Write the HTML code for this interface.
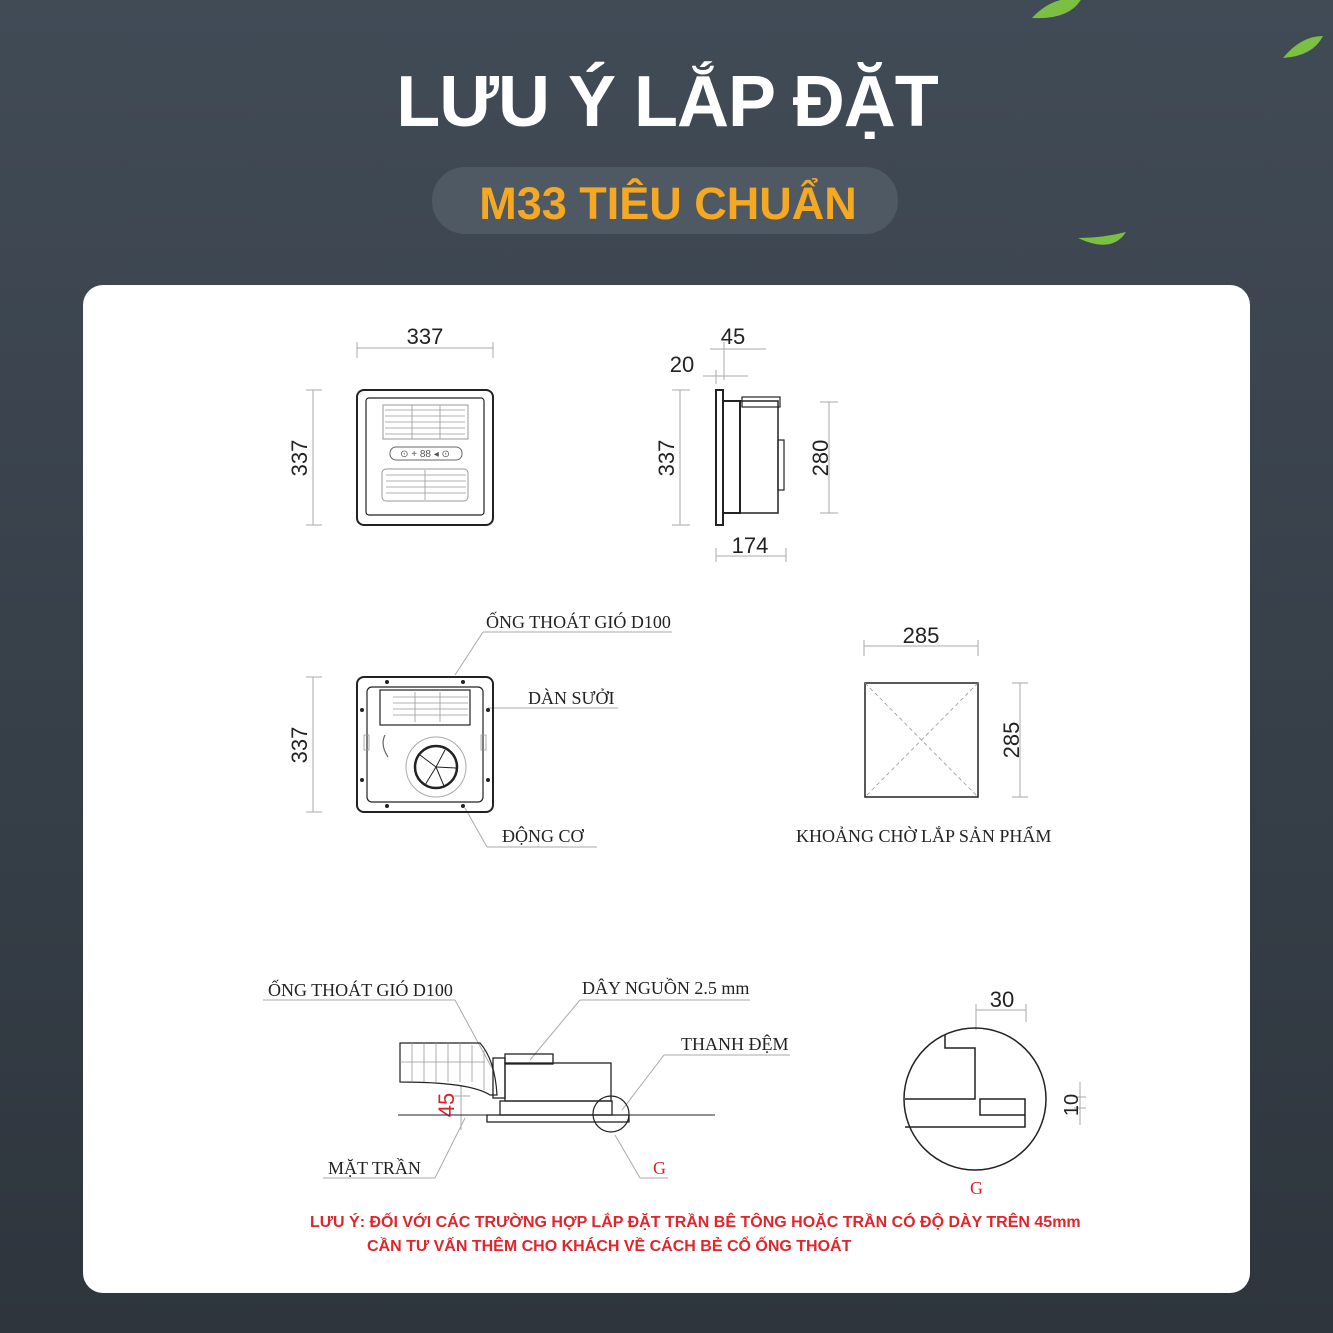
<!DOCTYPE html>
<html><head><meta charset="utf-8"><style>
html,body{margin:0;padding:0;width:1333px;height:1333px;overflow:hidden;background:#38414b}
svg{display:block}
</style></head><body>
<svg width="1333" height="1333" viewBox="0 0 1333 1333" xmlns="http://www.w3.org/2000/svg" font-family="Liberation Sans, sans-serif">
<defs>
<linearGradient id="bg" x1="0" y1="0" x2="0" y2="1"><stop offset="0" stop-color="#414b56"/><stop offset="1" stop-color="#2e353d"/></linearGradient>
</defs>
<rect width="1333" height="1333" fill="url(#bg)"/>
<path d="M1032,18 q20,-22 50,-20 q-12,22 -50,20z" fill="#7bc043"/>
<path d="M1283,58 q18,-22 40,-22 q-10,20 -40,22z" fill="#7bc043"/>
<path d="M1078,238 q25,0 48,-6 q-14,22 -48,6z" fill="#7bc043"/>
<text x="667" y="126" text-anchor="middle" fill="#fff" font-size="72" font-weight="bold" letter-spacing="-1">LƯU Ý LẮP ĐẶT</text>
<rect x="432" y="167" width="466" height="67" rx="33" fill="#4e5964"/>
<text x="668" y="219" text-anchor="middle" fill="#f5a922" font-size="45" font-weight="bold">M33 TIÊU CHUẨN</text>
<rect x="83" y="285" width="1167" height="1008" rx="20" fill="#fff"/>

<g fill="none" stroke="#aaa" stroke-width="1">
<line x1="357" y1="348" x2="493" y2="348"/><line x1="357" y1="342" x2="357" y2="358"/><line x1="493" y1="342" x2="493" y2="358"/>
<line x1="313" y1="390" x2="313" y2="525"/><line x1="306" y1="390" x2="322" y2="390"/><line x1="306" y1="525" x2="322" y2="525"/>
<line x1="680" y1="390" x2="680" y2="525"/><line x1="672" y1="390" x2="690" y2="390"/><line x1="672" y1="525" x2="690" y2="525"/>
<line x1="829" y1="402" x2="829" y2="513"/><line x1="820" y1="402" x2="838" y2="402"/><line x1="820" y1="513" x2="838" y2="513"/>
<line x1="716" y1="556" x2="786" y2="556"/><line x1="716" y1="548" x2="716" y2="562"/><line x1="786" y1="548" x2="786" y2="562"/>
<line x1="710" y1="349" x2="766" y2="349"/><line x1="724" y1="342" x2="724" y2="380"/><line x1="703" y1="376" x2="748" y2="376"/><line x1="716" y1="370" x2="716" y2="384"/>
<line x1="313" y1="677" x2="313" y2="812"/><line x1="306" y1="677" x2="322" y2="677"/><line x1="306" y1="812" x2="322" y2="812"/>
<line x1="864" y1="646" x2="978" y2="646"/><line x1="864" y1="640" x2="864" y2="656"/><line x1="978" y1="640" x2="978" y2="656"/>
<line x1="1020" y1="683" x2="1020" y2="797"/><line x1="1012" y1="683" x2="1028" y2="683"/><line x1="1012" y1="797" x2="1028" y2="797"/>
<line x1="483" y1="632" x2="672" y2="632"/><line x1="483" y1="632" x2="455" y2="675"/>
<line x1="525" y1="708" x2="618" y2="708"/><line x1="525" y1="708" x2="488" y2="708"/>
<line x1="487" y1="847" x2="597" y2="847"/><line x1="487" y1="847" x2="465" y2="808"/>
<line x1="263" y1="1000" x2="455" y2="1000"/><line x1="455" y1="1000" x2="493" y2="1070"/>
<line x1="580" y1="1000" x2="750" y2="1000"/><line x1="580" y1="1000" x2="530" y2="1060"/>
<line x1="664" y1="1055" x2="790" y2="1055"/><line x1="664" y1="1055" x2="622" y2="1110"/>
<line x1="323" y1="1178" x2="435" y2="1178"/><line x1="435" y1="1178" x2="465" y2="1118"/>
<line x1="640" y1="1178" x2="668" y2="1178"/><line x1="640" y1="1178" x2="615" y2="1135"/>
<line x1="976" y1="1010" x2="1026" y2="1010"/><line x1="976" y1="1004" x2="976" y2="1030"/><line x1="1026" y1="1004" x2="1026" y2="1022"/>
<line x1="1080" y1="1082" x2="1080" y2="1125"/><line x1="1074" y1="1097" x2="1086" y2="1097"/><line x1="1074" y1="1108" x2="1086" y2="1108"/>
<line x1="461" y1="1085" x2="461" y2="1130"/><line x1="452" y1="1096" x2="470" y2="1096"/>
</g>
<g font-size="22" fill="#222">
<text x="425" y="344" text-anchor="middle">337</text>
<text x="733" y="344" text-anchor="middle">45</text>
<text x="682" y="372" text-anchor="middle">20</text>
<text x="750" y="553" text-anchor="middle">174</text>
<text x="921" y="643" text-anchor="middle">285</text>
<text x="1002" y="1007" text-anchor="middle">30</text>
<text transform="translate(307,458) rotate(-90)" text-anchor="middle">337</text>
<text transform="translate(674,458) rotate(-90)" text-anchor="middle">337</text>
<text transform="translate(828,458) rotate(-90)" text-anchor="middle">280</text>
<text transform="translate(307,745) rotate(-90)" text-anchor="middle">337</text>
<text transform="translate(1019,740) rotate(-90)" text-anchor="middle">285</text>
<text transform="translate(1078,1105) rotate(-90)" text-anchor="middle" font-size="20">10</text>
<text transform="translate(454,1105) rotate(-90)" text-anchor="middle" font-size="22" fill="#d9232a">45</text>
</g>
<g font-family="Liberation Serif, serif" font-size="18" fill="#222">
<text x="486" y="628">ỐNG THOÁT GIÓ D100</text>
<text x="528" y="704">DÀN SƯỞI</text>
<text x="502" y="842">ĐỘNG CƠ</text>
<text x="796" y="842">KHOẢNG CHỜ LẮP SẢN PHẨM</text>
<text x="268" y="996">ỐNG THOÁT GIÓ D100</text>
<text x="582" y="994">DÂY NGUỒN 2.5 mm</text>
<text x="681" y="1050">THANH ĐỆM</text>
<text x="328" y="1174">MẶT TRẦN</text>
<text x="653" y="1174" fill="#d9232a">G</text>
<text x="970" y="1194" fill="#d9232a">G</text>
</g>
<g fill="none" stroke="#222" stroke-width="2">
<rect x="357" y="390" width="136" height="135" rx="7"/>
<rect x="366" y="398" width="118" height="117" rx="3" stroke-width="1.2"/>
<rect x="383" y="405" width="85" height="34" stroke="#999" stroke-width="1"/>
<rect x="390" y="447" width="72" height="13" rx="6" stroke="#666" stroke-width="1"/>
<rect x="382" y="469" width="86" height="32" rx="4" stroke="#999" stroke-width="1"/>
<rect x="716" y="390" width="7" height="135"/>
<path d="M723,401 L740,401 L740,513 L723,513"/>
<rect x="740" y="401" width="38" height="112" stroke-width="1.5"/>
<rect x="742" y="397" width="38" height="10" stroke-width="1.2"/>
<rect x="778" y="440" width="6" height="50" stroke-width="1.2"/>
<rect x="357" y="677" width="136" height="135" rx="7"/>
<rect x="367" y="687" width="116" height="115" rx="5" stroke-width="1.2"/>
<rect x="380" y="690" width="90" height="35" stroke-width="1.2"/>
<circle cx="436" cy="767" r="30" stroke="#aaa" stroke-width="1"/>
<circle cx="436" cy="767" r="21" stroke-width="2.5"/>
<path d="M436,767 L420,755 M436,767 L445,750 M436,767 L456,768 M436,767 L425,785 M436,767 L444,786" stroke-width="1"/>
<path d="M385,735 q-5,10 3,22" stroke="#666" stroke-width="1.2"/>
<rect x="865" y="683" width="113" height="114" stroke-width="1.5"/>
<line x1="398" y1="1115" x2="715" y2="1115" stroke-width="1"/>
<rect x="487" y="1115" width="142" height="7" stroke-width="1.3"/>
<rect x="500" y="1101" width="112" height="14" stroke-width="1.3"/>
<rect x="505" y="1063" width="106" height="38" stroke-width="1.3"/>
<rect x="505" y="1054" width="48" height="10" stroke-width="1.3"/>
<rect x="493" y="1058" width="12" height="40" stroke-width="1.3"/>
<path d="M400,1043 L480,1043 Q495,1060 497,1095 L490,1095 Q470,1082 400,1082Z" stroke-width="1.2"/>
<circle cx="611" cy="1114" r="18" stroke-width="1.2"/>
<circle cx="975" cy="1099" r="71" stroke-width="1.5"/>
<path d="M945,1035 L945,1048 L975,1048 L975,1099 L905,1099 M905,1127 L1025,1127 L1025,1099 L980,1099 L980,1115 L1025,1115" stroke-width="1.5"/>
</g>
<g fill="#222">
<circle cx="362" cy="710" r="2"/><circle cx="488" cy="710" r="2"/><circle cx="362" cy="780" r="2"/><circle cx="488" cy="780" r="2"/>
<circle cx="387" cy="682" r="2"/><circle cx="463" cy="682" r="2"/><circle cx="387" cy="806" r="2"/><circle cx="463" cy="806" r="2"/>
</g>
<g stroke="#999" stroke-width="0.8" fill="none">
<rect x="364" y="735" width="5" height="15"/><rect x="481" y="735" width="5" height="15"/>
<line x1="865" y1="683" x2="978" y2="797" stroke-dasharray="4,3"/><line x1="978" y1="683" x2="865" y2="797" stroke-dasharray="4,3"/>
<path d="M385,410h80M385,416h80M385,422h80M385,428h80M385,434h80M412,405v34M440,405v34"/>
<path d="M386,475h80M386,481h80M386,487h80M386,493h80M425,470v30"/>
<path d="M393,697h75M393,703h75M393,709h75M393,715h75M415,692v30M440,692v30"/>
<path d="M412,1043v39M424,1043v39M436,1043v39M448,1043v39M460,1043v39M472,1045v37M484,1050v40M400,1062h85"/>
</g>
<text x="425" y="457" text-anchor="middle" font-size="10" fill="#555">⊙ + 88 ◂ ⊙</text>
<g font-size="16" font-weight="bold" fill="#e0252b">
<text x="310" y="1227">LƯU Ý: ĐỐI VỚI CÁC TRƯỜNG HỢP LẮP ĐẶT TRẦN BÊ TÔNG HOẶC TRẦN CÓ ĐỘ DÀY TRÊN 45mm</text>
<text x="367" y="1251">CẦN TƯ VẤN THÊM CHO KHÁCH VỀ CÁCH BẺ CỔ ỐNG THOÁT</text>
</g>
</svg>
</body></html>
